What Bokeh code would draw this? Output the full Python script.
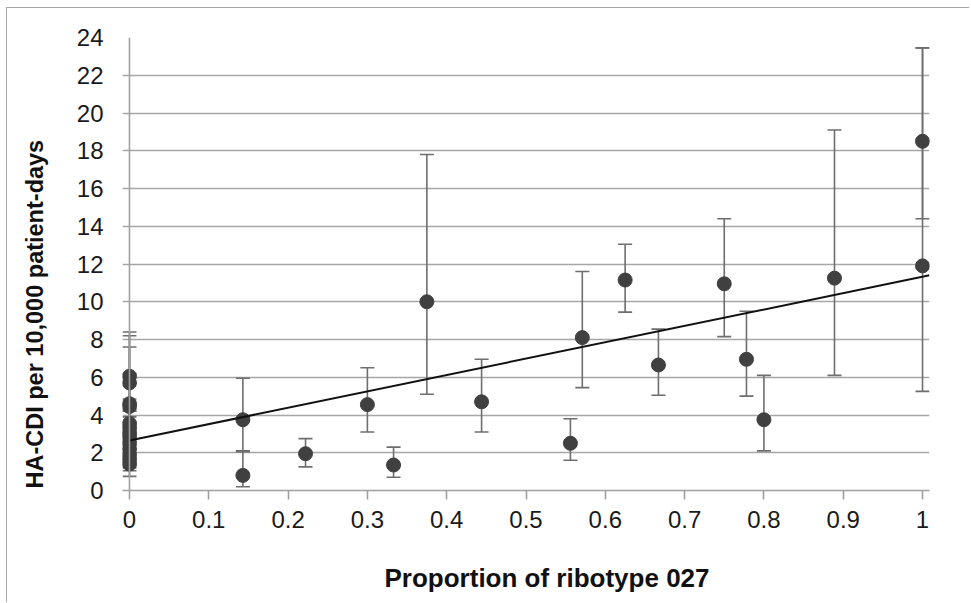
from bokeh.plotting import figure
from bokeh.models import ColumnDataSource, Whisker, TeeHead, Span, Range1d, FixedTicker, Title
from bokeh.embed import file_html
from bokeh.resources import INLINE

# ---- data ----
prop_027 = [0, 0, 0, 0, 0, 0, 0, 0, 0, 0, 0, 0, 0,
            0.143, 0.143, 0.222, 0.3, 0.333, 0.375, 0.444, 0.556, 0.571,
            0.625, 0.667, 0.75, 0.778, 0.8, 0.889, 1.0, 1.0]
hacdi_rate = [6.05, 5.7, 4.6, 4.45, 3.55, 3.3, 3.05, 2.8, 2.5, 2.2, 1.9, 1.65, 1.4,
              3.75, 0.8, 1.95, 4.55, 1.35, 10.0, 4.7, 2.5, 8.1,
              11.15, 6.65, 10.95, 6.95, 3.75, 11.25, 18.5, 11.9]
ci_low = [4.2, 3.9, 2.9, 3.1, 2.4, 2.2, 2.0, 1.7, 1.5, 1.3, 1.2, 1.05, 0.75,
          2.1, 0.2, 1.25, 3.1, 0.7, 5.1, 3.1, 1.6, 5.45,
          9.45, 5.05, 8.15, 5.0, 2.1, 6.1, 14.4, 5.25]
ci_high = [8.4, 8.2, 7.6, 6.2, 4.85, 4.6, 4.3, 4.2, 3.6, 3.5, 3.0, 2.9, 2.6,
           5.95, 2.05, 2.75, 6.5, 2.3, 17.8, 6.95, 3.8, 11.6,
           13.05, 8.55, 14.4, 9.5, 6.1, 19.1, 23.45, 23.45]

trend_x = [0.0, 1.0088]
trend_y = [2.65, 11.4]

x_ticks = [0.0, 0.1, 0.2, 0.3, 0.4, 0.5, 0.6, 0.7, 0.8, 0.9, 1.0]
x_tick_labels = ["0", "0.1", "0.2", "0.3", "0.4", "0.5", "0.6", "0.7", "0.8", "0.9", "1"]
y_ticks = [0, 2, 4, 6, 8, 10, 12, 14, 16, 18, 20, 22, 24]

x_title = "Proportion of ribotype 027"
y_title = "HA-CDI per 10,000 patient-days"

FONT = "Liberation Sans"

p = figure(width=963, height=595, output_backend="svg", toolbar_location=None,
           x_range=Range1d(-0.0088, 1.0088), y_range=Range1d(0, 24),
           min_border_left=115, min_border_right=41, min_border_top=29, min_border_bottom=113,
           background_fill_color="white", border_fill_color="white")
p.outline_line_color = None
p.styles = {"margin-left": "6px", "margin-top": "7px",
            "border-left": "1px solid #a8a8a8", "border-top": "1px solid #a8a8a8"}

# grid
p.xgrid.grid_line_color = None
p.ygrid.grid_line_color = "#a6a6a6"
p.ygrid.grid_line_width = 1.6

# x axis
p.xaxis.ticker = FixedTicker(ticks=x_ticks)
p.xaxis.major_label_overrides = {t: l for t, l in zip(x_ticks, x_tick_labels)}
p.xaxis.axis_line_color = "#a0a0a0"
p.xaxis.axis_line_width = 1.6
p.xaxis.major_tick_line_color = "#a0a0a0"
p.xaxis.major_tick_line_width = 1.6
p.xaxis.major_tick_out = 9
p.xaxis.major_tick_in = 0
p.xaxis.minor_tick_line_color = None
p.xaxis.major_label_text_font = FONT
p.xaxis.major_label_text_font_size = "24px"
p.xaxis.major_label_text_color = "#1a1a1a"
p.xaxis.major_label_standoff = 11

# y axis
p.yaxis.ticker = FixedTicker(ticks=y_ticks)
p.yaxis.axis_line_color = None
p.yaxis.major_tick_line_color = None
p.yaxis.minor_tick_line_color = None
p.yaxis.major_label_text_font = FONT
p.yaxis.major_label_text_font_size = "24px"
p.yaxis.major_label_text_color = "#1a1a1a"
p.yaxis.major_label_standoff = 13

# axis titles (placed like the reference: off-centre, further from the axes);
# an empty extra line is used as spacing inside the title panels
p.add_layout(Title(text="\n" + x_title, align="left", offset=262,
                   text_font=FONT, text_font_size="26px", text_font_style="bold",
                   text_color="#111111", standoff=0), "below")
p.add_layout(Title(text=y_title + "\n", align="left", offset=2,
                   text_font=FONT, text_font_size="23.5px", text_font_style="bold",
                   text_color="#111111", standoff=0), "left")

# vertical axis line at x = 0
p.add_layout(Span(location=0, dimension="height", line_color="#a0a0a0", line_width=1.6))

src = ColumnDataSource(dict(x=prop_027, y=hacdi_rate, lo=ci_low, hi=ci_high))

err_col = "#6e6e6e"
whisk = Whisker(source=src, base="x", lower="lo", upper="hi", dimension="height",
                line_color=err_col, line_width=1.6,
                lower_head=TeeHead(size=14, line_color=err_col, line_width=1.6),
                upper_head=TeeHead(size=14, line_color=err_col, line_width=1.6))
p.add_layout(whisk)

p.scatter("x", "y", source=src, size=14, fill_color="#404040", line_color="#404040")

p.line(trend_x, trend_y, line_color="#111111", line_width=2)

html = file_html(p, INLINE)
open("out.html", "w").write(html)
